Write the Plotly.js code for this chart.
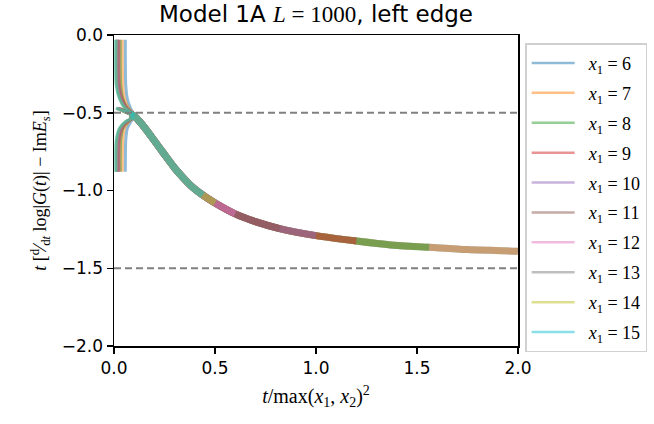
<!DOCTYPE html>
<html>
<head>
<meta charset="utf-8">
<script src="https://cdn.plot.ly/plotly-3.0.1.min.js"></script>
<style>html,body{margin:0;padding:0;background:#fff;}#chart{width:654px;height:424px;}</style>
</head>
<body>
<div id="chart"></div>
<script>
// ---- data ----
const x1Values = [6, 7, 8, 9, 10, 11, 12, 13, 14, 15];
const colors = ['#1f77b4', '#ff7f0e', '#2ca02c', '#d62728', '#9467bd', '#8c564b', '#e377c2', '#7f7f7f', '#bcbd22', '#17becf'];
// where each curve ends (x = t / max(x1,x2)^2)
const endX = [2.0, 2.0, 1.56, 1.23, 1.0, 0.83, 0.69, 0.59, 0.51, 0.44];
// early transient (heads) per series
const headX = [
  [0.056, 0.058, 0.066, 0.082, 0.10],
  [0.041, 0.043, 0.052, 0.072, 0.10],
  [0.031, 0.033, 0.044, 0.066, 0.10],
  [0.025, 0.027, 0.040, 0.064, 0.10],
  [0.020, 0.022, 0.036, 0.062, 0.10],
  [0.017, 0.019, 0.034, 0.060, 0.10],
  [0.014, 0.016, 0.032, 0.058, 0.10],
  [0.012, 0.014, 0.030, 0.056, 0.10],
  [0.010, 0.012, 0.028, 0.055, 0.10],
  [0.009, 0.011, 0.027, 0.054, 0.10]
];
const headHighY = [-0.03, -0.32, -0.41, -0.47, -0.51];
const headLowY  = [-0.88, -0.68, -0.60, -0.56, -0.53];
const headMidX  = [0.05, 0.10];
const headMidY  = [-0.49, -0.52];
// common decaying tail
const tailX = [0.08, 0.10, 0.145, 0.20, 0.245, 0.30, 0.344, 0.39, 0.44, 0.50, 0.60, 0.70, 0.82, 1.00, 1.20, 1.37, 1.56, 1.75, 2.00];
const tailY = [-0.51, -0.52, -0.585, -0.68, -0.76, -0.855, -0.92, -0.98, -1.03, -1.08, -1.15, -1.20, -1.245, -1.29, -1.325, -1.35, -1.365, -1.38, -1.39];
const hLines = [-0.5, -1.5];

// ---- build traces ----
const traces = [];
x1Values.forEach((v, i) => {
  const c = colors[i];
  const tx = [], ty = [];
  tailX.forEach((x, k) => { if (x <= endX[i] + 1e-9) { tx.push(x); ty.push(tailY[k]); } });
  traces.push({x: tx, y: ty, mode: 'lines', line: {color: c, width: 7, shape: 'spline', smoothing: 0.8}, opacity: 0.5, showlegend: false, hoverinfo: 'skip'});
  traces.push({x: headX[i], y: headHighY, mode: 'lines', line: {color: c, width: 3, shape: 'spline', smoothing: 0.6}, opacity: 0.5, showlegend: false, hoverinfo: 'skip'});
  traces.push({x: headX[i], y: headLowY, mode: 'lines', line: {color: c, width: 3, shape: 'spline', smoothing: 0.6}, opacity: 0.5, showlegend: false, hoverinfo: 'skip'});
  traces.push({x: [headX[i][0]].concat(headMidX), y: [-0.47].concat(headMidY), mode: 'lines', line: {color: c, width: 3}, opacity: 0.5, showlegend: false, hoverinfo: 'skip'});
});
x1Values.forEach((v, i) => {
  traces.push({x: [null], y: [null], mode: 'lines', line: {color: colors[i], width: 2.5}, opacity: 0.5,
    name: '\u2002<i>x</i><sub>1</sub> = ' + v, legendgroup: 'g' + v, showlegend: true});
});

const shapes = hLines.map(y => ({type: 'line', xref: 'paper', x0: 0, x1: 1, yref: 'y', y0: y, y1: y,
  line: {color: 'rgb(128,128,128)', width: 2, dash: '7px,4px'}}));

const serif = 'Liberation Serif, DejaVu Serif, serif';
const sans = 'DejaVu Sans, sans-serif';
const layout = {
  width: 654, height: 424,
  margin: {l: 114, r: 136, t: 35, b: 78, autoexpand: false},
  paper_bgcolor: '#fff', plot_bgcolor: '#fff',
  title: {text: 'Model 1A <span style="font-family:Liberation Serif"><i>L</i> = 1000</span>, left edge',
    font: {family: sans, size: 23, color: '#000'}, x: 0.5, xref: 'paper', xanchor: 'center', y: 0.966, yanchor: 'middle'},
  font: {family: sans, size: 17, color: '#000'},
  xaxis: {range: [0, 2], tickvals: [0, 0.5, 1.0, 1.5, 2.0], ticktext: ['0.0', '0.5', '1.0', '1.5', '2.0'],
    showgrid: false, zeroline: false, showline: true, mirror: true, linecolor: '#000', linewidth: 1.5,
    ticks: 'outside', ticklen: 6, tickwidth: 1.5, tickcolor: '#000', tickfont: {family: sans, size: 17},
    title: {text: '<i>t</i>/max(<i>x</i><sub>1</sub>, <i>x</i><sub>2</sub>)<sup>2</sup>', font: {family: serif, size: 20}, standoff: 12}},
  yaxis: {range: [-2, 0], tickvals: [0, -0.5, -1.0, -1.5, -2.0], ticktext: ['0.0', '\u22120.5', '\u22121.0', '\u22121.5', '\u22122.0'],
    showgrid: false, zeroline: false, showline: true, mirror: true, linecolor: '#000', linewidth: 1.5,
    ticks: 'outside', ticklen: 6, tickwidth: 1.5, tickcolor: '#000', tickfont: {family: sans, size: 17},
    title: {text: '<i>t</i> [<sup>d</sup>\u2044<sub>d<i>t</i></sub> log|<i>G</i>(<i>t</i>)| \u2212 Im<i>E</i><sub><i>s</i></sub>]', font: {family: serif, size: 18}, standoff: 10}},
  shapes: shapes,
  showlegend: true,
  legend: {xref: 'container', yref: 'container', x: 0.803, xanchor: 'left', y: 0.898, yanchor: 'top', bgcolor: 'rgba(255,255,255,0.8)',
    bordercolor: '#d0d0d0', borderwidth: 1.5, font: {family: serif, size: 18, color: '#000'},
    tracegroupgap: 3.5, itemwidth: 43, entrywidth: 150, traceorder: 'grouped', maxheight: 400}
};

Plotly.newPlot('chart', traces, layout, {displayModeBar: false, staticPlot: true});
</script>
</body>
</html>
